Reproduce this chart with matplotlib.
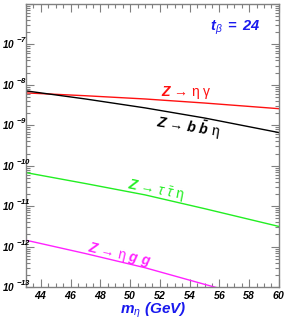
import numpy as np
import matplotlib
matplotlib.use("Agg")
import matplotlib.pyplot as plt
import matplotlib.transforms as mtransforms
from matplotlib.ticker import FixedLocator, LogLocator, NullFormatter, FuncFormatter

plt.rcParams['mathtext.fontset'] = 'custom'
plt.rcParams['mathtext.rm'] = 'Liberation Sans'
plt.rcParams['mathtext.it'] = 'Liberation Sans:italic'
plt.rcParams['mathtext.bf'] = 'Liberation Sans:bold:italic'
plt.rcParams['font.family'] = ['Liberation Sans', 'DejaVu Sans']

# data (log10 of branching ratio)
m_eta = [43, 47, 51, 55, 60]
log_eta_gamma = [-8.20, -8.27, -8.35, -8.45, -8.59]
log_bb_eta = [-8.15, -8.35, -8.57, -8.82, -9.18]
log_tautau_eta = [-10.17, -10.44, -10.72, -11.06, -11.50]
m_gg = [43, 47, 51, 55, 57]
log_eta_gg = [-11.84, -12.17, -12.52, -12.93, -13.13]

xticks = [44, 46, 48, 50, 52, 54, 56, 58, 60]
ydecades = [-7, -8, -9, -10, -11, -12, -13]

fig = plt.figure(figsize=(2.89, 3.23), dpi=100)
ax = fig.add_axes([0.090, 0.111, 0.875, 0.877])

lw = 1.0
ax.plot(m_eta, 10 ** np.array(log_eta_gamma), color='#ff1010', lw=lw)
ax.plot(m_eta, 10 ** np.array(log_bb_eta), color='black', lw=lw)
ax.plot(m_eta, 10 ** np.array(log_tautau_eta), color='#22ee22', lw=lw)
ax.plot(m_gg, 10 ** np.array(log_eta_gg), color='#ff22ff', lw=lw)

ax.set_yscale('log')
ax.set_xlim(43, 60)
ax.set_ylim(1e-13, 1e-6)

gray = '#808080'
for s in ax.spines.values():
    s.set_color(gray)
    s.set_linewidth(1.0)

ax.xaxis.set_major_locator(FixedLocator(xticks))
ax.xaxis.set_minor_locator(FixedLocator(np.arange(43, 60.01, 0.5)))
ax.yaxis.set_major_locator(LogLocator(base=10, numticks=20))
ax.yaxis.set_minor_locator(LogLocator(base=10, subs=np.arange(2, 10), numticks=20))
ax.yaxis.set_minor_formatter(NullFormatter())
ax.yaxis.set_major_formatter(NullFormatter())
ax.xaxis.set_major_formatter(FuncFormatter(lambda v, p: r'$\mathbf{%d}$' % v))

ax.tick_params(which='both', direction='in', top=True, right=True, color=gray, width=0.8)
ax.tick_params(which='major', length=6)
ax.tick_params(which='minor', length=3)
ax.tick_params(axis='x', pad=1.5, labelsize=7.5)

# y tick labels: "10" with a raised exponent
blend = mtransforms.blended_transform_factory(fig.transFigure, ax.transData)
for e in ydecades:
    ax.text(15.5 / 289, 10.0 ** e, r'$\mathbf{10}$', transform=blend, fontsize=7.2,
            ha='right', va='center', clip_on=False)
    t_exp = mtransforms.offset_copy(blend, fig=fig, x=0, y=4.5, units='dots')
    ax.text(15.5 / 289, 10.0 ** e, r'$\mathbf{%d}$' % e, transform=t_exp, fontsize=5.6,
            ha='left', va='center', clip_on=False)

blue = '#1a1aee'
ax.text(55.4, 10 ** -6.65, r'$\mathbf{t}_{\beta}\ \mathbf{=\ 24}$', color=blue, fontsize=10.5,
        ha='left', va='baseline')

ax.text(52.1, 10 ** -8.27, r'$\mathbf{Z}$ → η γ', color='#ff1010', fontsize=10,
        ha='left', va='baseline')
ax.text(51.7, 10 ** -9.05, r'$\mathbf{Z}$ → $\mathbf{b}\ \mathbf{\bar{b}}$ η', color='black',
        fontsize=10, ha='left', va='baseline', rotation=-9, rotation_mode='anchor')
ax.text(49.8, 10 ** -10.58, r'$\mathbf{Z}$ → $\tau\ \bar{\tau}$ η', color='#22ee22',
        fontsize=10, ha='left', va='baseline', rotation=-11, rotation_mode='anchor')
ax.text(47.1, 10 ** -12.11, r'$\mathbf{Z}$ → η $\mathbf{g}\ \mathbf{g}$', color='#ff22ff',
        fontsize=10, ha='left', va='baseline', rotation=-13, rotation_mode='anchor')

fig.text(0.530, 0.030, r'$\mathbf{m}_{\eta}\ \mathbf{(GeV)}$', color=blue, fontsize=11,
         ha='center', va='baseline')

fig.savefig('out.png', dpi=100)
